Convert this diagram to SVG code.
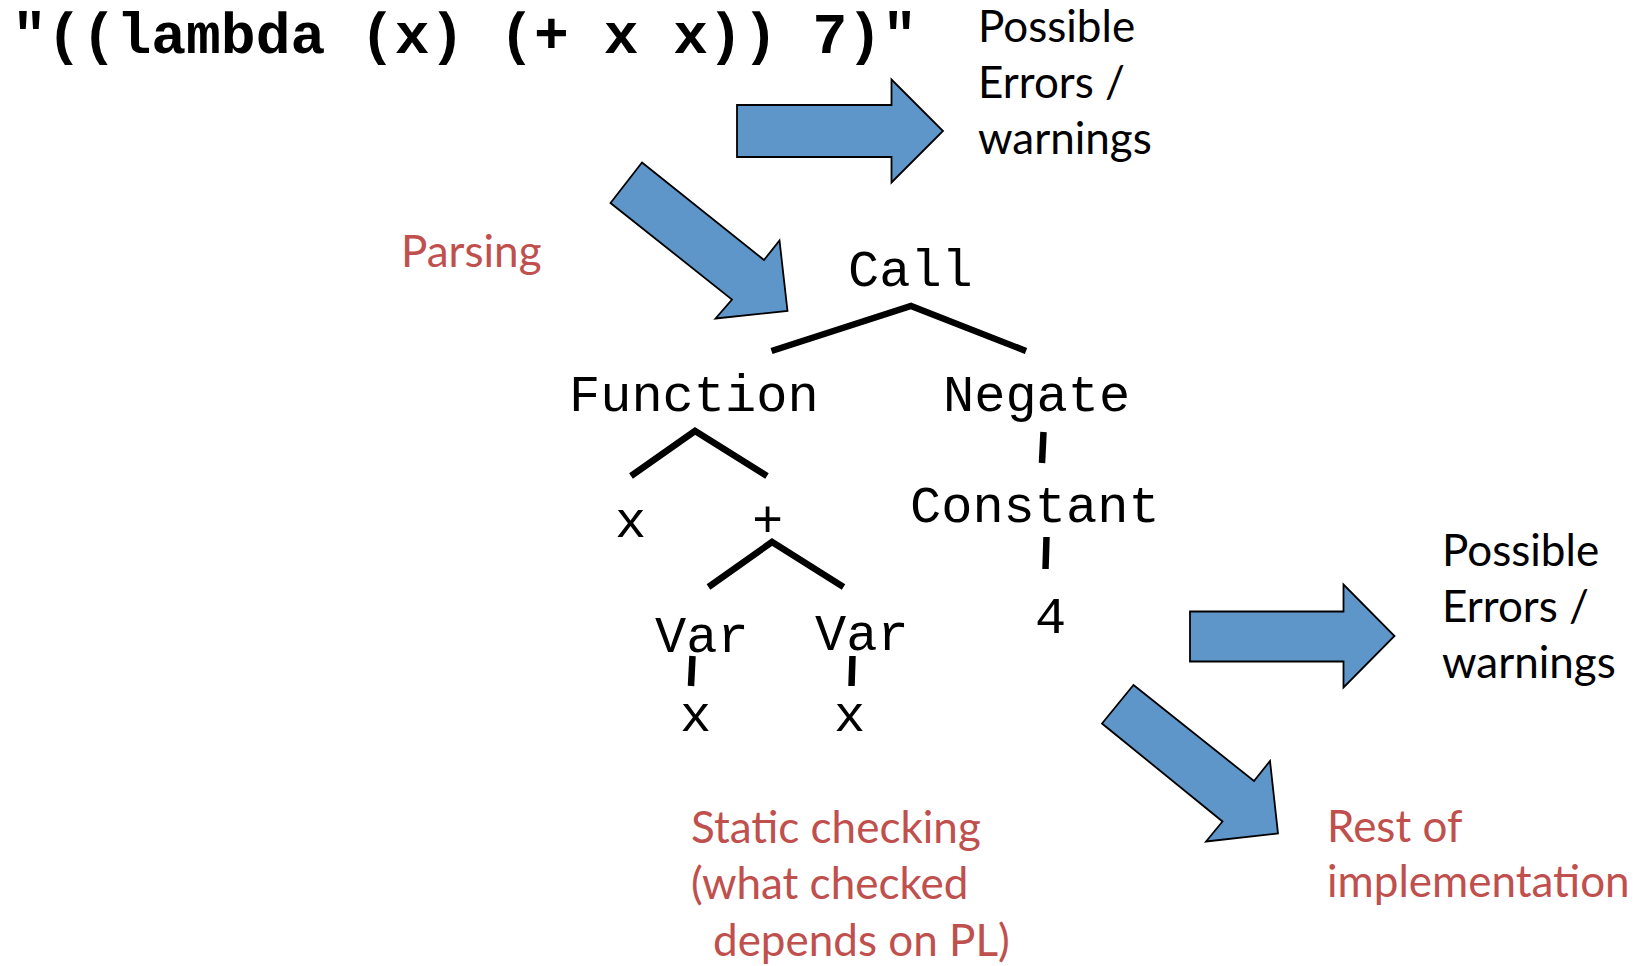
<svg xmlns="http://www.w3.org/2000/svg" width="1641" height="966" viewBox="0 0 1641 966">
  <style>
    .code { font-family: "Liberation Mono", "Courier New", monospace; font-weight: bold; font-size: 58px; fill: #000; }
    .node { font-family: "Liberation Mono", "Courier New", monospace; font-size: 52px; fill: #000; }
    .note { font-family: Lato, "Open Sans", sans-serif; font-size: 44px; fill: #000; }
    .red { fill: #C0504D; }
    .edge { stroke: #000; stroke-width: 6.5; fill: none; stroke-linecap: butt; }
    .bigarrow { fill: #5F96C9; stroke: #000; stroke-width: 1.8; stroke-linejoin: miter; }
  </style>
  <rect width="1641" height="966" fill="#fff"/>

  <g id="source-code">
    <text class="code" x="12" y="53" xml:space="preserve">"((lambda (x) (+ x x)) 7)"</text>
  </g>

  <g id="arrows">
    <polygon id="arrow-errors-1" class="bigarrow" points="737,105 891.5,105 891.5,79.5 943,131 891.5,182.5 891.5,157 737,157"/>
    <polygon id="arrow-parsing" class="bigarrow" points="642,162.5 764,260 779.5,240.5 787.5,311 715.5,318.5 732,299.5 610.5,203"/>
    <polygon id="arrow-errors-2" class="bigarrow" points="1190,611.5 1343.5,611.5 1343.5,584.5 1394.5,636 1343.5,687.5 1343.5,661.5 1190,661.5"/>
    <polygon id="arrow-rest" class="bigarrow" points="1133.5,685 1254,781 1270,761 1278,833.5 1206,841.5 1222.5,821.5 1102,723.5"/>
  </g>

  <g id="labels">
    <g id="errors-1">
      <text class="note" x="978" y="42">Possible</text>
      <text class="note" x="978" y="98">Errors /</text>
      <text class="note" x="978" y="154">warnings</text>
    </g>
    <g id="errors-2">
      <text class="note" x="1442" y="566">Possible</text>
      <text class="note" x="1442" y="622">Errors /</text>
      <text class="note" x="1442" y="678">warnings</text>
    </g>
    <g id="parsing">
      <text class="note red" x="401" y="267">Parsing</text>
    </g>
    <g id="static-checking">
      <text class="note red" x="691" y="843">Static checking</text>
      <text class="note red" x="691" y="899">(what checked</text>
      <text class="note red" x="713" y="956">depends on PL)</text>
    </g>
    <g id="rest">
      <text class="note red" x="1327" y="842">Rest of</text>
      <text class="note red" x="1327" y="897">implementation</text>
    </g>
  </g>

  <g id="connectors">
    <polyline class="edge" points="771.5,351 911,306 1026,351"/>
    <polyline class="edge" points="631,476 695,431 767,476"/>
    <polyline class="edge" points="708.5,587 772,542 843.5,587"/>
    <line class="edge" x1="1043.5" y1="432" x2="1042" y2="463"/>
    <line class="edge" x1="1046.5" y1="537" x2="1045.5" y2="569"/>
    <line class="edge" x1="692.5" y1="656" x2="691" y2="686"/>
    <line class="edge" x1="852.5" y1="656" x2="851.5" y2="686"/>
  </g>

  <g id="node-call"><text class="node" x="848" y="286">Call</text></g>
  <g id="node-function"><text class="node" x="569" y="411">Function</text></g>
  <g id="node-negate"><text class="node" x="943" y="411">Negate</text></g>
  <g id="node-param-x"><text class="node" x="615" y="537">x</text></g>
  <g id="node-plus"><text class="node" x="752" y="537">+</text></g>
  <g id="node-constant"><text class="node" x="910" y="522">Constant</text></g>
  <g id="node-var-1"><text class="node" x="655" y="652">Var</text></g>
  <g id="node-var-2"><text class="node" x="815" y="650">Var</text></g>
  <g id="node-x-1"><text class="node" x="680" y="731">x</text></g>
  <g id="node-x-2"><text class="node" x="834" y="731">x</text></g>
  <g id="node-4"><text class="node" x="1035" y="633">4</text></g>
</svg>
